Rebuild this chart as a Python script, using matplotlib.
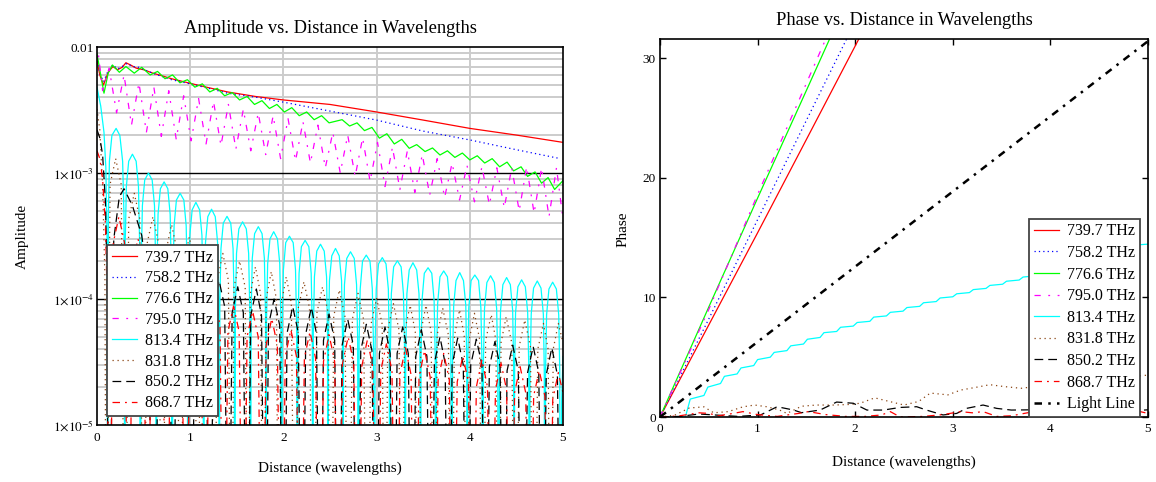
import matplotlib
matplotlib.use("Agg")
import matplotlib.pyplot as plt
from matplotlib.lines import Line2D
from matplotlib.ticker import NullFormatter, FixedLocator

plt.rcParams['font.family'] = ['Liberation Serif', 'DejaVu Serif']
plt.rcParams['mathtext.fontset'] = 'stix'

# ---------------------------------------------------------------- data
freq_labels = ['739.7 THz', '758.2 THz', '776.6 THz', '795.0 THz',
               '813.4 THz', '831.8 THz', '850.2 THz', '868.7 THz']
light_label = 'Light Line'

# amplitude vs distance (wavelengths)
amp_7397_x = [0.00, 0.03, 0.07, 0.12, 0.17, 0.22, 0.27, 0.31, 0.36, 0.42, 0.50, 0.60,
              0.70, 0.80, 1.00, 1.20, 1.40, 1.70, 2.00, 2.50, 3.00, 3.50, 4.00, 4.50, 5.00]
amp_7397_y = [7.8e-3, 6.0e-3, 5.0e-3, 6.3e-3, 7.0e-3, 6.6e-3, 6.9e-3, 7.5e-3, 7.2e-3, 6.8e-3,
              6.6e-3, 6.2e-3, 5.9e-3, 5.6e-3, 5.15e-3, 4.75e-3, 4.4e-3, 4.05e-3, 3.8e-3,
              3.5e-3, 3.05e-3, 2.63e-3, 2.26e-3, 2.0e-3, 1.75e-3]

amp_7582_x = [0.00, 0.03, 0.07, 0.12, 0.17, 0.22, 0.27, 0.32, 0.38, 0.45, 0.55, 0.65,
              0.80, 1.00, 1.20, 1.40, 1.70, 2.00, 2.50, 3.00, 3.50, 4.00, 4.50, 4.95]
amp_7582_y = [8.4e-3, 6.2e-3, 5.3e-3, 6.5e-3, 7.2e-3, 6.7e-3, 7.0e-3, 7.4e-3, 7.0e-3, 6.9e-3,
              6.4e-3, 6.0e-3, 5.5e-3, 5.1e-3, 4.7e-3, 4.3e-3, 4.0e-3, 3.65e-3, 3.1e-3,
              2.63e-3, 2.15e-3, 1.83e-3, 1.53e-3, 1.31e-3]

amp_7766_x = [0.00, 0.04, 0.075, 0.12, 0.165, 0.24, 0.31, 0.40, 0.48, 0.57, 0.65, 0.73,
              0.81, 0.89, 0.97, 1.05, 1.13, 1.21, 1.29, 1.37, 1.45, 1.53, 1.61, 1.69,
              1.77, 1.85, 1.93, 2.01, 2.09, 2.17, 2.25, 2.33, 2.41, 2.49, 2.63, 2.71,
              2.79, 2.87, 2.95, 3.03, 3.11, 3.19, 3.27, 3.35, 3.43, 3.52, 3.60, 3.68,
              3.76, 3.84, 3.92, 4.00, 4.08, 4.16, 4.24, 4.32, 4.40, 4.47, 4.55, 4.62,
              4.70, 4.77, 4.84, 4.91, 5.00]
amp_7766_y = [8.8e-3, 6.0e-3, 4.3e-3, 6.2e-3, 7.2e-3, 6.3e-3, 7.0e-3, 6.2e-3, 6.9e-3, 6.0e-3,
              6.4e-3, 5.6e-3, 6.0e-3, 5.2e-3, 5.5e-3, 4.8e-3, 5.1e-3, 4.4e-3, 4.7e-3,
              4.1e-3, 4.35e-3, 3.8e-3, 4.05e-3, 3.5e-3, 3.75e-3, 3.25e-3, 3.5e-3, 3.05e-3,
              3.3e-3, 2.85e-3, 3.05e-3, 2.65e-3, 2.85e-3, 2.5e-3, 2.65e-3, 2.36e-3, 2.5e-3,
              2.17e-3, 2.3e-3, 1.89e-3, 2.05e-3, 1.70e-3, 1.85e-3, 1.57e-3, 1.68e-3,
              1.48e-3, 1.58e-3, 1.39e-3, 1.5e-3, 1.33e-3, 1.44e-3, 1.27e-3, 1.37e-3,
              1.20e-3, 1.3e-3, 1.12e-3, 1.22e-3, 1.04e-3, 1.12e-3, 9.4e-4, 1.02e-3,
              8.3e-4, 9.2e-4, 7.4e-4, 8.7e-4]

amp_7950_x = [0.00, 0.06, 0.13, 0.21, 0.29, 0.37, 0.45, 0.53, 0.61, 0.69, 0.77, 0.85,
              0.93, 1.01, 1.09, 1.17, 1.25, 1.33, 1.41, 1.49, 1.57, 1.65, 1.73, 1.81,
              1.89, 1.97, 2.05, 2.13, 2.21, 2.29, 2.37, 2.45, 2.53, 2.61, 2.69, 2.77,
              2.85, 2.93, 3.01, 3.09, 3.17, 3.25, 3.33, 3.41, 3.49, 3.57, 3.65, 3.73,
              3.81, 3.89, 3.97, 4.05, 4.13, 4.21, 4.29, 4.37, 4.45, 4.53, 4.61, 4.69,
              4.77, 4.85, 4.93, 5.00]
amp_7950_y = [1.1e-2, 4.5e-3, 6.8e-3, 3.0e-3, 6.0e-3, 2.4e-3, 5.2e-3, 2.1e-3, 4.8e-3, 1.95e-3,
              4.5e-3, 1.85e-3, 4.1e-3, 1.8e-3, 3.9e-3, 1.7e-3, 3.7e-3, 1.65e-3, 3.5e-3,
              1.55e-3, 3.2e-3, 1.5e-3, 3.0e-3, 1.4e-3, 2.85e-3, 1.3e-3, 2.7e-3, 1.25e-3,
              2.55e-3, 1.2e-3, 2.4e-3, 1.1e-3, 2.1e-3, 1.0e-3, 2.0e-3, 9.4e-4, 1.9e-3,
              8.6e-4, 1.75e-3, 7.8e-4, 1.6e-3, 7.4e-4, 1.5e-3, 7.0e-4, 1.4e-3, 6.7e-4,
              1.3e-3, 6.4e-4, 1.2e-3, 6.1e-4, 1.15e-3, 5.9e-4, 1.12e-3, 5.6e-4, 1.1e-3,
              5.3e-4, 1.1e-3, 5.0e-4, 1.12e-3, 4.8e-4, 1.1e-3, 4.5e-4, 1.1e-3, 4.3e-4]

amp_8134_x = [0.000, 0.040, 0.075, 0.095, 0.108, 0.115,
              0.122, 0.133, 0.160, 0.205, 0.245, 0.275, 0.290, 0.300,
              0.303, 0.315, 0.340, 0.380, 0.420, 0.445, 0.457, 0.466,
              0.475, 0.487, 0.512, 0.552, 0.592, 0.617, 0.629, 0.636,
              0.643, 0.655, 0.680, 0.720, 0.760, 0.785, 0.797, 0.806,
              0.815, 0.827, 0.852, 0.892, 0.932, 0.957, 0.969, 0.976,
              0.984, 0.996, 1.021, 1.061, 1.101, 1.126, 1.138, 1.145,
              1.152, 1.164, 1.189, 1.229, 1.269, 1.294, 1.306, 1.312,
              1.318, 1.330, 1.355, 1.395, 1.435, 1.460, 1.472, 1.478,
              1.485, 1.497, 1.522, 1.562, 1.602, 1.627, 1.639, 1.646,
              1.654, 1.666, 1.691, 1.731, 1.771, 1.796, 1.808, 1.813,
              1.819, 1.831, 1.856, 1.896, 1.936, 1.961, 1.973, 1.980,
              1.988, 2.000, 2.025, 2.065, 2.105, 2.130, 2.142, 2.149,
              2.156, 2.168, 2.193, 2.233, 2.273, 2.298, 2.310, 2.315,
              2.321, 2.333, 2.358, 2.398, 2.438, 2.463, 2.473, 2.478,
              2.484, 2.494, 2.519, 2.559, 2.599, 2.624, 2.634, 2.640,
              2.645, 2.655, 2.680, 2.720, 2.760, 2.785, 2.797, 2.804,
              2.812, 2.824, 2.849, 2.889, 2.929, 2.954, 2.966, 2.975,
              2.984, 2.996, 3.021, 3.061, 3.101, 3.126, 3.136, 3.142,
              3.148, 3.158, 3.183, 3.223, 3.263, 3.288, 3.300, 3.306,
              3.313, 3.325, 3.350, 3.390, 3.430, 3.455, 3.465, 3.471,
              3.477, 3.487, 3.512, 3.552, 3.592, 3.617, 3.629, 3.636,
              3.643, 3.655, 3.680, 3.720, 3.760, 3.785, 3.797, 3.806,
              3.815, 3.827, 3.852, 3.892, 3.932, 3.957, 3.967, 3.973,
              3.979, 3.989, 4.014, 4.054, 4.094, 4.119, 4.131, 4.138,
              4.146, 4.158, 4.183, 4.223, 4.263, 4.288, 4.300, 4.309,
              4.318, 4.330, 4.355, 4.395, 4.435, 4.460, 4.470, 4.475,
              4.481, 4.491, 4.516, 4.556, 4.596, 4.621, 4.633, 4.640,
              4.647, 4.659, 4.684, 4.724, 4.764, 4.789, 4.799, 4.806,
              4.813, 4.824, 4.849, 4.889, 4.929, 4.954, 4.965, 4.972,
              4.985, 5.000]
amp_8134_y = [4.8e-3, 3.4e-3, 2.1e-3, 1.1e-3, 3.0e-4, 1e-7,
              4.5e-4, 1.24e-3, 1.99e-3, 2.26e-3, 1.99e-3, 1.24e-3, 4.5e-4, 1e-7,
              2.8e-4, 7.8e-4, 1.24e-3, 1.41e-3, 1.24e-3, 7.8e-4, 2.8e-4, 1e-7,
              2.0e-4, 5.5e-4, 8.8e-4, 1.0e-3, 8.8e-4, 5.5e-4, 2.0e-4, 1e-7,
              1.7e-4, 4.7e-4, 7.5e-4, 8.5e-4, 7.5e-4, 4.7e-4, 1.7e-4, 1e-7,
              1.4e-4, 3.8e-4, 6.1e-4, 6.9e-4, 6.1e-4, 3.8e-4, 1.4e-4, 1e-7,
              1.2e-4, 3.2e-4, 5.1e-4, 5.85e-4, 5.1e-4, 3.2e-4, 1.2e-4, 1e-7,
              1.0e-4, 2.8e-4, 4.5e-4, 5.16e-4, 4.5e-4, 2.8e-4, 1.0e-4, 1e-7,
              9.1e-5, 2.5e-4, 4.0e-4, 4.53e-4, 4.0e-4, 2.5e-4, 9.1e-5, 1e-7,
              8.2e-5, 2.3e-4, 3.6e-4, 4.1e-4, 3.6e-4, 2.3e-4, 8.2e-5, 1e-7,
              7.5e-5, 2.1e-4, 3.3e-4, 3.75e-4, 3.3e-4, 2.1e-4, 7.5e-5, 1e-7,
              6.8e-5, 1.9e-4, 3.0e-4, 3.42e-4, 3.0e-4, 1.9e-4, 6.8e-5, 1e-7,
              6.3e-5, 1.7e-4, 2.8e-4, 3.15e-4, 2.8e-4, 1.7e-4, 6.3e-5, 1e-7,
              5.8e-5, 1.6e-4, 2.6e-4, 2.92e-4, 2.6e-4, 1.6e-4, 5.8e-5, 1e-7,
              5.4e-5, 1.5e-4, 2.4e-4, 2.72e-4, 2.4e-4, 1.5e-4, 5.4e-5, 1e-7,
              5.0e-5, 1.4e-4, 2.2e-4, 2.52e-4, 2.2e-4, 1.4e-4, 5.0e-5, 1e-7,
              4.7e-5, 1.3e-4, 2.1e-4, 2.37e-4, 2.1e-4, 1.3e-4, 4.7e-5, 1e-7,
              4.5e-5, 1.2e-4, 2.0e-4, 2.23e-4, 2.0e-4, 1.2e-4, 4.5e-5, 1e-7,
              4.3e-5, 1.2e-4, 1.9e-4, 2.13e-4, 1.9e-4, 1.2e-4, 4.3e-5, 1e-7,
              4.0e-5, 1.1e-4, 1.8e-4, 2.01e-4, 1.8e-4, 1.1e-4, 4.0e-5, 1e-7,
              3.9e-5, 1.1e-4, 1.7e-4, 1.94e-4, 1.7e-4, 1.1e-4, 3.9e-5, 1e-7,
              3.5e-5, 9.7e-5, 1.6e-4, 1.77e-4, 1.6e-4, 9.7e-5, 3.5e-5, 1e-7,
              3.3e-5, 9.2e-5, 1.5e-4, 1.67e-4, 1.5e-4, 9.2e-5, 3.3e-5, 1e-7,
              3.2e-5, 8.9e-5, 1.4e-4, 1.62e-4, 1.4e-4, 8.9e-5, 3.2e-5, 1e-7,
              3.1e-5, 8.5e-5, 1.4e-4, 1.55e-4, 1.4e-4, 8.5e-5, 3.1e-5, 1e-7,
              3.1e-5, 8.4e-5, 1.35e-4, 1.53e-4, 1.35e-4, 8.4e-5, 3.1e-5, 1e-7,
              3.0e-5, 8.1e-5, 1.3e-4, 1.48e-4, 1.3e-4, 8.1e-5, 3.0e-5, 1e-7,
              2.8e-5, 7.8e-5, 1.25e-4, 1.42e-4, 1.25e-4, 7.8e-5, 2.8e-5, 1e-7,
              2.8e-5, 7.6e-5, 1.22e-4, 1.39e-4, 1.22e-4, 7.6e-5, 2.8e-5, 1e-7,
              2.7e-5, 7.5e-5, 1.2e-4, 1.36e-4, 1.2e-4, 7.5e-5, 2.7e-5, 1e-7,
              1.5e-5, 3.5e-5]

amp_8318_x = [0.000, 0.030, 0.060, 0.085,
              0.100, 0.140, 0.200, 0.260,
              0.300, 0.340, 0.400, 0.460,
              0.500, 0.540, 0.600, 0.660,
              0.700, 0.740, 0.800, 0.860,
              0.895, 0.930, 0.990, 1.050,
              1.080, 1.110, 1.170, 1.230,
              1.260, 1.290, 1.350, 1.410,
              1.440, 1.470, 1.530, 1.590,
              1.615, 1.645, 1.700, 1.755,
              1.785, 1.815, 1.870, 1.925,
              1.950, 1.980, 2.030, 2.085,
              2.125, 2.160, 2.220, 2.280,
              2.320, 2.360, 2.420, 2.480,
              2.510, 2.540, 2.600, 2.660,
              2.700, 2.740, 2.800, 2.860,
              2.900, 2.940, 3.000, 3.060,
              3.090, 3.120, 3.180, 3.240,
              3.270, 3.300, 3.360, 3.415,
              3.445, 3.475, 3.530, 3.585,
              3.620, 3.650, 3.710, 3.770,
              3.800, 3.835, 3.890, 3.940,
              3.970, 3.995, 4.050, 4.105,
              4.140, 4.170, 4.230, 4.280,
              4.310, 4.335, 4.390, 4.450,
              4.490, 4.530, 4.590, 4.650,
              4.690, 4.730, 4.790, 4.840,
              4.870, 4.895, 4.950, 5.000]
amp_8318_y = [3.2e-3, 2.2e-3, 8.0e-4, 1.5e-4,
              1e-7, 8.1e-4, 1.3e-3, 8.1e-4,
              1e-7, 4.3e-4, 6.9e-4, 4.3e-4,
              1e-7, 2.8e-4, 4.5e-4, 2.8e-4,
              1e-7, 2.4e-4, 3.9e-4, 2.4e-4,
              1e-7, 1.9e-4, 3.1e-4, 1.9e-4,
              1e-7, 1.6e-4, 2.6e-4, 1.6e-4,
              1e-7, 1.4e-4, 2.3e-4, 1.4e-4,
              1e-7, 1.24e-4, 2.0e-4, 1.24e-4,
              1e-7, 1.1e-4, 1.8e-4, 1.1e-4,
              1e-7, 1.0e-4, 1.65e-4, 1.0e-4,
              1e-7, 9.3e-5, 1.5e-4, 9.3e-5,
              1e-7, 8.5e-5, 1.37e-4, 8.5e-5,
              1e-7, 7.8e-5, 1.25e-4, 7.8e-5,
              1e-7, 7.3e-5, 1.18e-4, 7.3e-5,
              1e-7, 6.9e-5, 1.11e-4, 6.9e-5,
              1e-7, 6.3e-5, 1.01e-4, 6.3e-5,
              1e-7, 5.7e-5, 9.2e-5, 5.7e-5,
              1e-7, 5.5e-5, 8.9e-5, 5.5e-5,
              1e-7, 5.5e-5, 8.9e-5, 5.5e-5,
              1e-7, 5.2e-5, 8.4e-5, 5.2e-5,
              1e-7, 5.1e-5, 8.2e-5, 5.1e-5,
              1e-7, 4.8e-5, 7.7e-5, 4.8e-5,
              1e-7, 4.7e-5, 7.5e-5, 4.7e-5,
              1e-7, 4.5e-5, 7.2e-5, 4.5e-5,
              1e-7, 4.2e-5, 6.8e-5, 4.2e-5,
              1e-7, 4.0e-5, 6.4e-5, 4.0e-5,
              1e-7, 4.0e-5, 6.4e-5, 4.5e-5]

amp_8502_x = [0.000, 0.030, 0.060, 0.090, 0.110, 0.120,
              0.180, 0.240, 0.290, 0.380, 0.480, 0.540,
              0.620, 0.660, 0.720, 0.780,
              0.815, 0.850, 0.910, 0.970,
              1.010, 1.050, 1.110, 1.170,
              1.210, 1.250, 1.310, 1.370,
              1.410, 1.450, 1.510, 1.570,
              1.610, 1.650, 1.710, 1.765,
              1.805, 1.840, 1.900, 1.960,
              2.000, 2.040, 2.100, 2.160,
              2.200, 2.240, 2.300, 2.355,
              2.395, 2.430, 2.490, 2.550,
              2.590, 2.630, 2.690, 2.750,
              2.790, 2.830, 2.890, 2.950,
              2.990, 3.030, 3.090, 3.145,
              3.185, 3.220, 3.280, 3.340,
              3.380, 3.420, 3.480, 3.540,
              3.580, 3.620, 3.680, 3.735,
              3.775, 3.810, 3.870, 3.930,
              3.970, 4.010, 4.070, 4.130,
              4.170, 4.210, 4.270, 4.325,
              4.365, 4.400, 4.460, 4.520,
              4.570, 4.620, 4.680, 4.740,
              4.780, 4.820, 4.880, 4.940,
              4.980, 5.000]
amp_8502_y = [2.2e-3, 1.9e-3, 1.4e-3, 6.0e-4, 1.2e-4, 1e-7,
              3.0e-4, 6.5e-4, 7.5e-4, 5.5e-4, 3.2e-4, 1.5e-4,
              1e-7, 1.6e-4, 2.6e-4, 1.6e-4,
              1e-7, 1.2e-4, 1.9e-4, 1.2e-4,
              1e-7, 9.9e-5, 1.6e-4, 9.9e-5,
              1e-7, 8.7e-5, 1.4e-4, 8.7e-5,
              1e-7, 7.8e-5, 1.25e-4, 7.8e-5,
              1e-7, 7.4e-5, 1.2e-4, 7.4e-5,
              1e-7, 6.2e-5, 1.0e-4, 6.2e-5,
              1e-7, 5.4e-5, 8.7e-5, 5.4e-5,
              1e-7, 5.3e-5, 8.6e-5, 5.3e-5,
              1e-7, 4.7e-5, 7.6e-5, 4.7e-5,
              1e-7, 4.3e-5, 6.9e-5, 4.3e-5,
              1e-7, 3.9e-5, 6.3e-5, 3.9e-5,
              1e-7, 3.7e-5, 6.0e-5, 3.7e-5,
              1e-7, 3.7e-5, 6.0e-5, 3.7e-5,
              1e-7, 3.5e-5, 5.7e-5, 3.5e-5,
              1e-7, 3.1e-5, 5.0e-5, 3.1e-5,
              1e-7, 3.0e-5, 4.9e-5, 3.0e-5,
              1e-7, 3.0e-5, 4.8e-5, 3.0e-5,
              1e-7, 2.9e-5, 4.6e-5, 2.9e-5,
              1e-7, 2.7e-5, 4.3e-5, 2.7e-5,
              1e-7, 2.6e-5, 4.2e-5, 2.6e-5,
              1e-7, 2.5e-5, 4.1e-5, 2.5e-5,
              1e-7, 8e-6]

amp_8687_x = [0.000, 0.030, 0.060, 0.090, 0.110,
              0.130, 0.175, 0.235, 0.295,
              0.340, 0.380, 0.440, 0.500,
              0.540, 0.585, 0.645, 0.705,
              0.745, 0.790, 0.850, 0.910,
              0.950, 0.995, 1.055, 1.115,
              1.160, 1.200, 1.260, 1.320,
              1.360, 1.405, 1.465, 1.525,
              1.570, 1.610, 1.670, 1.730,
              1.770, 1.815, 1.875, 1.935,
              1.980, 2.020, 2.080, 2.140,
              2.180, 2.225, 2.285, 2.345,
              2.390, 2.430, 2.490, 2.550,
              2.590, 2.635, 2.695, 2.755,
              2.800, 2.840, 2.900, 2.960,
              3.000, 3.045, 3.105, 3.165,
              3.210, 3.250, 3.310, 3.370,
              3.410, 3.455, 3.515, 3.575,
              3.620, 3.660, 3.720, 3.780,
              3.820, 3.865, 3.925, 3.985,
              4.030, 4.070, 4.130, 4.190,
              4.230, 4.275, 4.335, 4.395,
              4.440, 4.480, 4.540, 4.600,
              4.640, 4.685, 4.745, 4.805,
              4.850, 4.890, 4.950, 5.000]
amp_8687_y = [1.5e-3, 1.3e-3, 9.0e-4, 4.0e-4, 1.0e-4,
              1e-7, 2.8e-4, 4.5e-4, 2.8e-4,
              1e-7, 1.9e-4, 3.0e-4, 1.9e-4,
              1e-7, 1.24e-4, 2.0e-4, 1.24e-4,
              1e-7, 9.3e-5, 1.5e-4, 9.3e-5,
              1e-7, 7.4e-5, 1.2e-4, 7.4e-5,
              1e-7, 6.2e-5, 1.0e-4, 6.2e-5,
              1e-7, 5.5e-5, 8.8e-5, 5.5e-5,
              1e-7, 5.0e-5, 8.0e-5, 5.0e-5,
              1e-7, 4.3e-5, 7.0e-5, 4.3e-5,
              1e-7, 3.5e-5, 5.7e-5, 3.5e-5,
              1e-7, 3.4e-5, 5.5e-5, 3.4e-5,
              1e-7, 3.2e-5, 5.2e-5, 3.2e-5,
              1e-7, 3.1e-5, 5.0e-5, 3.1e-5,
              1e-7, 2.9e-5, 4.7e-5, 2.9e-5,
              1e-7, 2.7e-5, 4.4e-5, 2.7e-5,
              1e-7, 2.5e-5, 4.1e-5, 2.5e-5,
              1e-7, 2.4e-5, 3.9e-5, 2.4e-5,
              1e-7, 2.3e-5, 3.7e-5, 2.3e-5,
              1e-7, 2.2e-5, 3.5e-5, 2.2e-5,
              1e-7, 2.0e-5, 3.3e-5, 2.0e-5,
              1e-7, 1.9e-5, 3.1e-5, 1.9e-5,
              1e-7, 1.8e-5, 2.9e-5, 1.8e-5,
              1e-7, 1.7e-5, 2.7e-5, 1.7e-5,
              1e-7, 1.6e-5, 2.6e-5, 1.8e-5]

# phase vs distance (wavelengths)
ph_7397_x = [0.00, 0.50, 1.00, 1.50, 2.05]
ph_7397_y = [0.0, 7.7, 15.4, 23.2, 31.8]
ph_7582_x = [0.00, 0.50, 1.00, 1.50, 1.93]
ph_7582_y = [0.0, 8.2, 16.5, 24.8, 31.9]
ph_7766_x = [0.00, 0.50, 1.00, 1.50, 1.76]
ph_7766_y = [0.0, 9.2, 18.3, 27.3, 32.0]
ph_7950_x = [0.00, 0.50, 1.00, 1.50, 1.72]
ph_7950_y = [0.0, 9.0, 18.6, 27.9, 32.0]
ph_8134_x = [0.00, 0.26, 0.31, 0.45, 0.49, 0.62, 0.66, 0.79, 0.83, 0.96, 1.00, 1.13,
             1.17, 1.30, 1.34, 1.47, 1.51, 1.64, 1.68, 1.81, 1.85, 1.98, 2.02, 2.15,
             2.19, 2.32, 2.36, 2.49, 2.53, 2.66, 2.70, 2.83, 2.87, 3.00, 3.04, 3.17,
             3.21, 3.34, 3.38, 3.51, 3.55, 3.68, 3.72, 3.85, 3.89, 4.02, 4.06, 4.19,
             4.23, 4.36, 4.40, 4.53, 4.57, 4.70, 4.74, 4.87, 4.91, 5.00]
ph_8134_y = [0.0, 0.0, 1.5, 1.8, 2.5, 2.8, 3.4, 3.6, 4.1, 4.3, 4.8, 5.0,
             5.4, 5.55, 5.95, 6.1, 6.5, 6.65, 7.05, 7.15, 7.5, 7.6, 7.9, 8.0,
             8.35, 8.45, 8.75, 8.85, 9.15, 9.25, 9.55, 9.65, 9.95, 10.05, 10.3, 10.4,
             10.65, 10.75, 11.0, 11.1, 11.35, 11.45, 11.7, 11.8, 12.05, 12.15, 12.45, 12.55,
             12.85, 12.95, 13.25, 13.35, 13.65, 13.75, 14.05, 14.15, 14.4, 14.45]
ph_8318_x = [0.00, 0.15, 0.30, 0.45, 0.55, 0.70, 0.85, 0.97, 1.10, 1.22, 1.30, 1.45,
             1.60, 1.78, 1.95, 2.05, 2.20, 2.35, 2.50, 2.65, 2.77, 2.95, 3.08, 3.25,
             3.38, 3.52, 3.70, 3.90, 4.10, 4.30, 4.50, 4.70, 4.85, 5.00]
ph_8318_y = [0.0, 0.15, 0.75, 0.85, 0.35, 0.45, 0.85, 1.0, 0.85, 0.6, 0.3, 0.9,
             1.0, 1.0, 1.05, 1.15, 1.6, 1.3, 1.0, 1.3, 2.0, 1.85, 2.25, 2.5,
             2.7, 2.55, 2.4, 2.6, 2.9, 3.0, 2.9, 3.2, 3.4, 3.5]
ph_8502_x = [0.00, 0.20, 0.40, 0.60, 0.80, 1.03, 1.20, 1.37, 1.45, 1.64, 1.81, 1.98,
             2.12, 2.29, 2.46, 2.63, 2.73, 2.90, 3.04, 3.14, 3.31, 3.45, 3.60, 3.80,
             4.00, 4.26, 4.40, 4.60, 4.80, 5.00]
ph_8502_y = [0.0, 0.05, 0.25, 0.15, 0.05, 0.17, 0.86, 0.58, 0.36, 0.58, 1.25, 1.15,
             0.58, 0.58, 0.8, 0.86, 0.58, 0.17, 0.3, 0.72, 1.0, 0.72, 0.58, 0.6,
             0.5, 0.72, 0.58, 0.3, 0.5, 0.6]
ph_8687_x = [0.00, 0.20, 0.40, 0.50, 0.60, 0.75, 0.85, 1.00, 1.20, 1.42, 1.52, 1.70,
             1.90, 2.10, 2.27, 2.36, 2.46, 2.70, 2.90, 3.08, 3.20, 3.31, 3.45, 3.60,
             3.83, 4.00, 4.17, 4.40, 4.60, 4.78, 4.92, 5.00]
ph_8687_y = [0.0, 0.1, 0.35, 0.3, 0.1, 0.3, 0.45, 0.2, 0.05, 0.3, 0.45, 0.2,
             0.05, 0.05, 0.17, 0.45, 0.0, 0.05, 0.2, 0.45, 0.35, 0.45, 0.05, 0.1,
             0.45, 0.3, 0.17, 0.05, 0.2, 0.45, 0.45, 0.3]
light_x = [0.0, 5.0]
light_y = [0.0, 31.42]

amp_series = [(amp_7397_x, amp_7397_y), (amp_7582_x, amp_7582_y),
              (amp_7766_x, amp_7766_y), (amp_7950_x, amp_7950_y),
              (amp_8134_x, amp_8134_y), (amp_8318_x, amp_8318_y),
              (amp_8502_x, amp_8502_y), (amp_8687_x, amp_8687_y)]
ph_series = [(ph_7397_x, ph_7397_y), (ph_7582_x, ph_7582_y),
             (ph_7766_x, ph_7766_y), (ph_7950_x, ph_7950_y),
             (ph_8134_x, ph_8134_y), (ph_8318_x, ph_8318_y),
             (ph_8502_x, ph_8502_y), (ph_8687_x, ph_8687_y)]

# ---------------------------------------------------------------- styles
trace_styles = [
    dict(color='#ff0000', linestyle='-'),
    dict(color='#0000ff', linestyle=(0, (1, 2.5))),
    dict(color='#00ff00', linestyle='-'),
    dict(color='#ff00ff', linestyle=(0, (5, 6, 1.5, 6))),
    dict(color='#00ffff', linestyle='-'),
    dict(color='#8b4513', linestyle=(0, (1, 3))),
    dict(color='#000000', linestyle=(0, (7, 4))),
    dict(color='#ff0000', linestyle=(0, (6, 4, 1.5, 4))),
]
light_style = dict(color='#000000', linestyle=(0, (3, 2.5, 1, 2.5)), linewidth=1.8)
LW = 0.9

W, H = 1156, 482
fig = plt.figure(figsize=(W / 100, H / 100), dpi=100)
ax1 = fig.add_axes([97 / W, (H - 425) / H, 466 / W, 378 / H])
ax2 = fig.add_axes([660 / W, (H - 417) / H, 488 / W, 378 / H])

# ---------------------------------------------------------------- amplitude panel
ax1.set_yscale('log')
ax1.set_xlim(0, 5)
ax1.set_ylim(1e-5, 1e-2)

for yv in [1e-5, 1e-4, 1e-3]:
    for m in range(2, 10):
        ax1.axhline(yv * m, color='#cccccc', linewidth=1.4, zorder=0.5)
for xv in [1, 2, 3, 4]:
    ax1.axvline(xv, color='#cccccc', linewidth=1.4, zorder=0.5)
for yv in [1e-4, 1e-3]:
    ax1.axhline(yv, color='#000000', linewidth=1.0, zorder=0.6)

for (xs, ys), st in zip(amp_series, trace_styles):
    ax1.plot(xs, ys, linewidth=LW, zorder=2, **st)

ax1.yaxis.set_major_locator(FixedLocator([1e-5, 1e-4, 1e-3, 1e-2]))
ax1.yaxis.set_minor_locator(FixedLocator([]))
ax1.yaxis.set_minor_formatter(NullFormatter())
ax1.set_yticklabels([r'$1{\times}10^{-5}$', r'$1{\times}10^{-4}$',
                     r'$1{\times}10^{-3}$', '0.01'])
ax1.set_xticks([0, 1, 2, 3, 4, 5])
ax1.set_xticklabels(['0', '1', '2', '3', '4', '5'])
ax1.tick_params(axis='both', which='both', length=0, labelsize=9.5)
ax1.tick_params(axis='y', pad=2)
ax1.tick_params(axis='x', pad=5)
for sp in ax1.spines.values():
    sp.set_linewidth(1.2)
    sp.set_zorder(3)

# ---------------------------------------------------------------- phase panel
ax2.set_xlim(0, 5)
ax2.set_ylim(0, 31.6)
for (xs, ys), st in zip(ph_series, trace_styles):
    ax2.plot(xs, ys, linewidth=LW, zorder=2, **st)
ax2.plot(light_x, light_y, zorder=2, **light_style)
ax2.set_xticks([0, 1, 2, 3, 4, 5])
ax2.set_yticks([0, 10, 20, 30])
ax2.tick_params(axis='both', direction='in', top=True, right=True,
                length=4.5, width=1.0, labelsize=9.5)
ax2.tick_params(axis='x', pad=4)
ax2.tick_params(axis='y', pad=3)
for sp in ax2.spines.values():
    sp.set_linewidth(1.2)
    sp.set_zorder(3)

# ---------------------------------------------------------------- titles / labels
fig.text(330 / W, (H - 33) / H, 'Amplitude vs. Distance in Wavelengths',
         ha='center', va='baseline', fontsize=13.3)
fig.text(904 / W, (H - 25) / H, 'Phase vs. Distance in Wavelengths',
         ha='center', va='baseline', fontsize=13.3)
fig.text(330 / W, (H - 472) / H, 'Distance (wavelengths)',
         ha='center', va='baseline', fontsize=11)
fig.text(904 / W, (H - 466) / H, 'Distance (wavelengths)',
         ha='center', va='baseline', fontsize=11)
fig.text(22 / W, (H - 236) / H, 'Amplitude', rotation=90,
         ha='center', va='center', fontsize=11)
fig.text(623 / W, (H - 229) / H, 'Phase', rotation=90,
         ha='center', va='center', fontsize=11)

# ---------------------------------------------------------------- legends
handles = [Line2D([], [], linewidth=LW, **st) for st in trace_styles]
leg_kw = dict(frameon=True, fancybox=False, framealpha=1.0, edgecolor='#444444',
              fontsize=11.5, handlelength=1.6, handletextpad=0.5,
              borderpad=0.3, borderaxespad=0.0)
leg1 = ax1.legend(handles, freq_labels, loc='lower left',
                  bbox_to_anchor=(0.021, 0.024), labelspacing=0.3, **leg_kw)
leg1.get_frame().set_linewidth(1.3)
leg1.set_zorder(5)

handles2 = handles + [Line2D([], [], **light_style)]
leg2 = ax2.legend(handles2, freq_labels + [light_label], loc='lower right',
                  bbox_to_anchor=(0.984, 0.0), labelspacing=0.35, **leg_kw)
leg2.get_frame().set_linewidth(1.3)
leg2.set_zorder(5)

fig.savefig('out.png', dpi=100)
